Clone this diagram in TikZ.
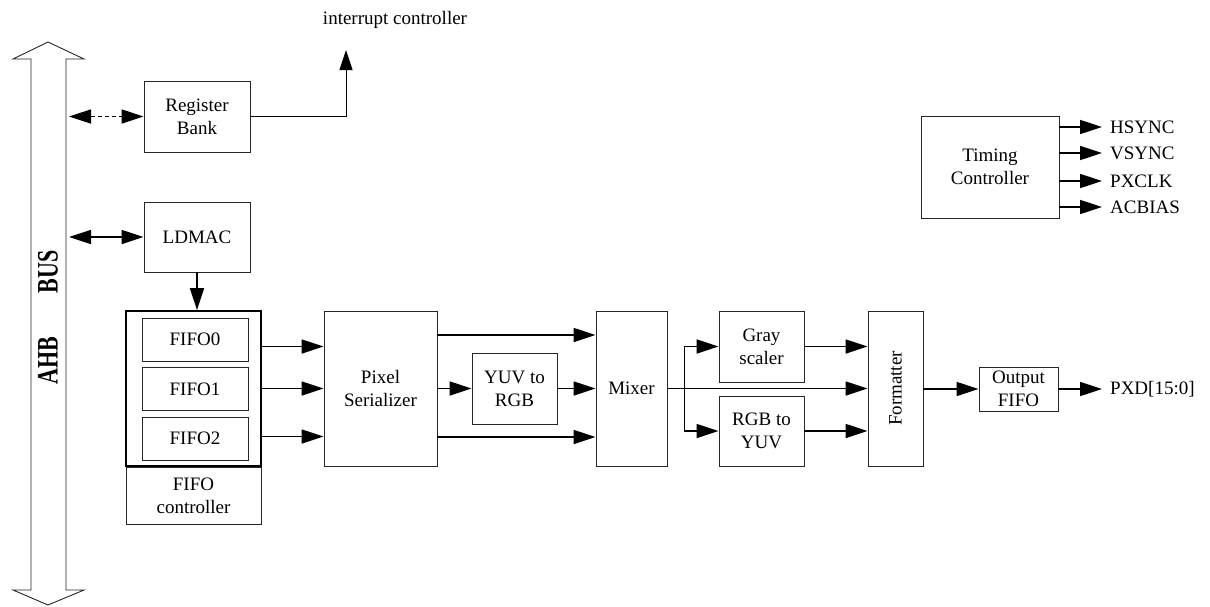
\documentclass[tikz,border=0pt]{standalone}
\usepackage{fontspec}
\setmainfont{Liberation Serif}
\usetikzlibrary{arrows.meta,calc,positioning}
\tikzset{
  blk/.style={draw=black!85,line width=.9pt,inner sep=0pt,align=center},
  arr/.style={line width=1.6pt,-{Triangle[length=22pt,width=14pt]}},
  darr/.style={line width=1.6pt,{Triangle[length=22pt,width=14pt]}-{Triangle[length=22pt,width=14pt]}},
  sig/.style={anchor=west,inner xsep=8pt,inner ysep=0pt},
}
\begin{document}
\begin{tikzpicture}[x=1pt,y=-1pt,font=\fontsize{19}{23}\selectfont]
  \useasboundingbox (0,0) rectangle (1210,606);
  % AHB bus
  \draw[black!85,line width=.9pt] (48,42)--(84,59)--(66,59)--(66,590)--(84,590)--(48,605)--(13,590)--(31,590)--(31,59)--(13,59)--cycle;
  \node[rotate=90,font=\fontsize{22}{26}\selectfont\bfseries] (ahb) at (48,317.5) {\scalebox{1}[1.35]{AHB\hspace{2em}BUS}};
  \coordinate (bus) at (69,0);
  % blocks
  \node[blk,minimum width=106pt,minimum height=71pt] (reg) at (197,116.5) {Register\\Bank};
  \node[blk,minimum width=106pt,minimum height=70pt] (ldmac) at (197,237) {LDMAC};
  \node[blk,draw=black,line width=1.8pt,minimum width=135pt,minimum height=155pt] (fifo) at (193.5,388.5) {};
  \node[blk,minimum width=135pt,minimum height=57pt,below=0pt of fifo] (fifoctl) {FIFO\\controller};
  \foreach \i/\y in {0/339.5,1/389,2/438.5}
    \node[blk,minimum width=106pt,minimum height=43pt] (fifo\i) at (195,\y) {FIFO\i};
  \node[blk,minimum width=113pt,minimum height=155pt] (pser) at (380.5,388.5) {Pixel\\Serializer};
  \node[blk,minimum width=85pt,minimum height=71pt] (yuv) at (514.5,388.5) {YUV to\\RGB};
  \node[blk,minimum width=71pt,minimum height=155pt] (mixer) at (631.5,388.5) {Mixer};
  \node[blk,minimum width=85pt,minimum height=71pt] (gray) at (761.5,346.5) {Gray\\scaler};
  \node[blk,minimum width=85pt,minimum height=70pt] (ryuv) at (761.5,431) {RGB to\\YUV};
  \node[blk,minimum width=55pt,minimum height=155pt] (fmt) at (895.5,388.5) {};
  \node[rotate=90] (fmtlbl) at (fmt) {Formatter};
  \node[blk,minimum width=79pt,minimum height=44pt] (ofifo) at (1018.5,389) {Output\\FIFO};
  \node[blk,minimum width=138pt,minimum height=102pt] (timing) at (990,167) {Timing\\Controller};
  % outside signals
  \node (irq) at (395,20) {interrupt controller};
  \coordinate (irqin) at (346,50);
  \node[sig] (pxd) at (1102,389) {PXD[15:0]};
  \foreach \n/\t/\y in {hs/HSYNC/127,vs/VSYNC/153,pc/PXCLK/181,ac/ACBIAS/207}{
    \node[sig] (\n) at (1102,\y) {\t};
    \draw[arr] (timing.east |- \n.west) -- (\n.west);}
  % connections
  \draw[darr,dash pattern=on 4pt off 3pt] (reg.west -| bus) -- (reg.west);
  \draw[darr] (ldmac.west -| bus) -- (ldmac.west);
  \draw[line width=.9pt,-{Triangle[length=20pt,width=13pt]}] (reg.east) -| (irqin);
  \draw[arr] (ldmac.south) -- (ldmac.south |- fifo.north);
  \foreach \s in {42,0,-48} \draw[arr] ([yshift=\s pt]fifo.east) -- ([yshift=\s pt]pser.west);
  \foreach \s in {53.5,-48.5} \draw[arr] ([yshift=\s pt]pser.east) -- ([yshift=\s pt]mixer.west);
  \draw[arr] (pser) -- (yuv); \draw[arr] (yuv) -- (mixer);
  \draw[arr] (mixer) -- (fmt);
  \coordinate (br) at ([xshift=17pt]mixer.east);
  \draw[arr] (br) |- (gray); \draw[arr] (br) |- (ryuv);
  \draw[arr] (gray) -- (gray -| fmt.west); \draw[arr] (ryuv) -- (ryuv -| fmt.west);
  \draw[arr] (fmt.east |- ofifo.west) -- (ofifo.west);
  \draw[arr] (ofifo) -- (pxd);
\end{tikzpicture}
\end{document}
